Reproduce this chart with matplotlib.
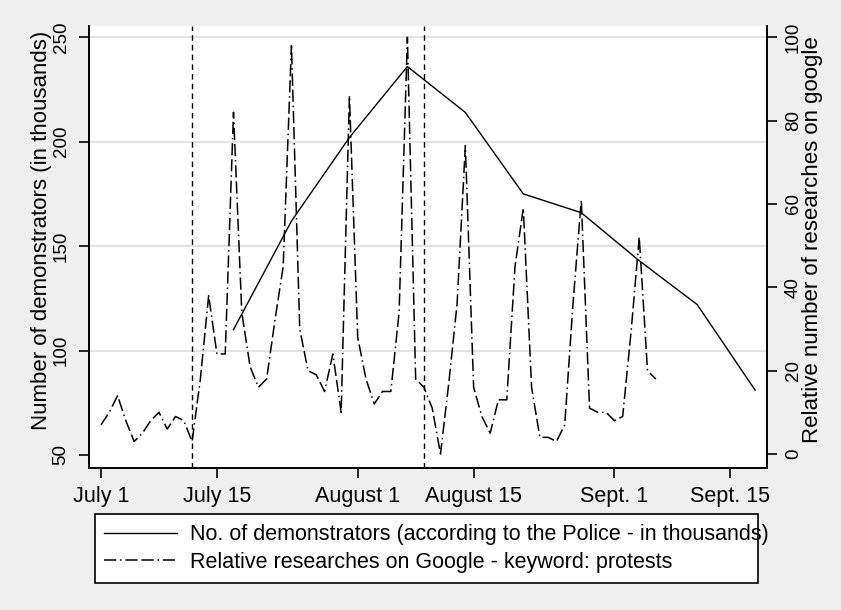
import matplotlib
matplotlib.use("Agg")
import matplotlib.pyplot as plt
from matplotlib.lines import Line2D
from matplotlib.patches import Rectangle

plt.rcParams['font.family'] = ['Liberation Sans', 'DejaVu Sans']

# days counted from July 1
tick_days = [0, 14, 31, 45, 62, 76]
tick_labels = ["July 1", "July 15", "August 1", "August 15", "Sept. 1", "Sept. 15"]
event_days = [11, 39]

# weekly demonstrator counts (police estimate, thousands)
demo_days = [16, 23, 30, 37, 44, 51, 58, 65, 72, 79]
demonstrators = [110, 162, 202, 236, 214, 175, 166, 143, 122, 81]

# daily google trends index for "protests"
google_days = list(range(68))
google_index = [7, 10, 14, 8, 3, 5, 8, 10, 6, 9,
                8, 3, 18, 38, 24, 24, 82, 34, 21, 16,
                18, 32, 45, 98, 30, 20, 19, 15, 24, 10,
                86, 28, 18, 12, 15, 15, 34, 100, 18, 16,
                11, 0, 17, 36, 74, 16, 9, 5, 13, 13,
                45, 59, 16, 4, 4, 3, 7, 36, 61, 11,
                10, 10, 8, 9, 29, 52, 20, 18]

FS_X = 15.5     # x tick labels and legend
FS_Y = 13.5     # rotated y tick labels
FS_TITLE = 16   # axis titles
dash_dot = (0, (8, 2.5, 1, 2.5, 8, 2.5))

fig = plt.figure(figsize=(8.41, 6.10), dpi=100, facecolor='#efefef')
ax = fig.add_axes([89 / 841, 141.7 / 610, 678 / 841, 442.3 / 610])
ax.set_facecolor('white')

ax.plot(demo_days, demonstrators, color='black', lw=1.0, zorder=3)
for d in event_days:
    ax.axvline(d, color='black', lw=1.0, ls=(0, (4, 3)), zorder=2)

ax.set_xlim(-1.45, 80.43)
ax.set_ylim(43.6, 255.4)
ax.set_xticks(tick_days)
ax.set_xticklabels(tick_labels, fontsize=FS_X)
ax.set_yticks([50, 100, 150, 200, 250])
ax.set_yticklabels(["50", "100", "150", "200", "250"], fontsize=FS_Y,
                   rotation=90, va='center')
for y in [100, 150, 200, 250]:
    ax.axhline(y, color='#e3e3e3', lw=1.5, zorder=0)
ax.set_ylabel("Number of demonstrators (in thousands)", fontsize=FS_TITLE)
ax.yaxis.set_label_coords(-0.0546, 0.539)

ax2 = ax.twinx()
ax2.plot(google_days, google_index, color='black', lw=1.1, ls=dash_dot, zorder=3)
ax2.set_ylim(-3.43, 102.7)
ax2.set_yticks([0, 20, 40, 60, 80, 100])
ax2.set_yticklabels(["0", "20", "40", "60", "80", "100"], fontsize=FS_Y,
                    rotation=90, va='center')
ax2.set_ylabel("Relative number of researches on google", fontsize=FS_TITLE,
               rotation=90)
ax2.yaxis.set_label_coords(1.0516, 0.516)

for a in (ax, ax2):
    a.spines['top'].set_visible(False)
    for s in ('left', 'right', 'bottom'):
        a.spines[s].set_linewidth(1.2)
    a.tick_params(direction='out', length=7, width=1.2, colors='black')
ax.tick_params(axis='y', pad=7)
ax.tick_params(axis='x', pad=6)
ax2.tick_params(axis='y', pad=6)

# legend box drawn separately; the first entry runs past its right edge
fig.patches.append(Rectangle((95 / 841, 26.7 / 610), 662.5 / 841, 69 / 610,
                             transform=fig.transFigure, facecolor='white',
                             edgecolor='black', lw=1.2, zorder=1))
handles = [Line2D([], [], color='black', lw=1.0),
           Line2D([], [], color='black', lw=1.1, ls=dash_dot)]
labels = ["No. of demonstrators (according to the Police - in thousands)",
          "Relative researches on Google - keyword: protests"]
leg = fig.legend(handles, labels, loc='center left',
                 bbox_to_anchor=(103.5 / 841, 61.3 / 610),
                 fontsize=FS_X, frameon=False, handlelength=3.4,
                 handletextpad=0.6, labelspacing=0.3, borderpad=0,
                 borderaxespad=0)
leg.set_zorder(2)

fig.savefig("out.png", dpi=100, facecolor=fig.get_facecolor())
